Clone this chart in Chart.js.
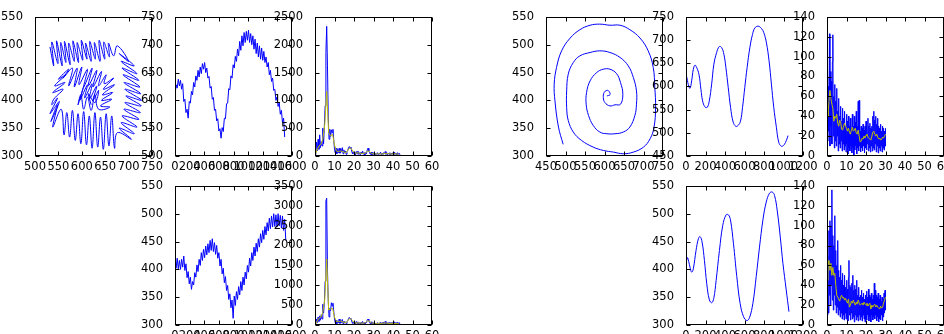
<!DOCTYPE html>
<html>
<head>
<meta charset="utf-8">
<script src="https://cdn.jsdelivr.net/npm/chart.js@4.4.0/dist/chart.umd.min.js"></script>
<style>
  html, body { margin: 0; padding: 0; background: #fff; overflow: hidden; width: 944px; height: 334px; }
  #fig { position: relative; width: 944px; height: 334px; }
  #fig canvas { position: absolute; }
</style>
</head>
<body>
<div id="fig"></div>
<script>
// ---- tick labels ----
var ticks500to750 = [500, 550, 600, 650, 700, 750];
var ticks300to550 = [300, 350, 400, 450, 500, 550];
var ticks450to750 = [450, 500, 550, 600, 650, 700, 750];
var ticks0to1600 = [0, 200, 400, 600, 800, 1000, 1200, 1400, 1600];
var ticks0to1200 = [0, 200, 400, 600, 800, 1000, 1200];
var ticks0to60 = [0, 10, 20, 30, 40, 50, 60];
var ticks0to2500 = [0, 500, 1000, 1500, 2000, 2500];
var ticks0to3500 = [0, 500, 1000, 1500, 2000, 2500, 3000, 3500];
var ticks0to140 = [0, 20, 40, 60, 80, 100, 120, 140];

// ---- panel 1: looping trajectory (x, y) ----
var p1Path = [
  [532,496],[540,462],[536,505],[549,466],[546,507],[558,462],[555,504],[566,468],[563,506],[575,464],
  [572,503],[584,470],[581,507],[593,468],[590,504],[602,472],[599,508],[611,474],[608,503],[620,470],
  [617,506],[629,474],[627,504],[639,470],[637,508],[649,474],[647,505],[659,478],[657,503],[668,480],
  [676,498],[700,470],[680,484],[712,462],[684,470],[718,448],[686,458],[722,436],[688,446],[724,424],
  [690,432],[726,412],[692,420],[728,400],[694,408],[727,390],[692,396],[725,378],[690,384],[722,366],
  [686,372],[718,352],[684,360],[712,340],[680,350],[706,330],[676,342],
  [670,314],[664,372],[658,318],[652,376],[646,312],[640,370],[634,316],[628,378],[622,314],[616,372],
  [610,320],[604,380],[598,322],[592,376],[586,328],[580,382],[574,334],[568,378],[562,338],
  [556,384],[538,352],[548,392],[534,362],[552,398],[532,376],[548,404],[536,392],
  [540,402],[560,420],[538,414],[564,432],[542,426],[566,446],[550,438],[572,456],[560,440],[580,458],
  [572,426],[590,458],[584,424],[600,460],[594,428],[612,456],[604,424],[622,458],[614,426],[632,454],
  [624,424],[642,452],[636,426],[652,446],
  [648,430],[668,440],[646,420],[670,428],[644,410],[666,414],[642,400],[664,402],[640,390],[660,388],
  [636,384],[628,410],[620,382],[612,406],[604,384],[598,410],[592,392],[604,425],[596,400],[612,428],
  [606,404],[622,430],[616,402],[632,426],[624,400],[636,418],[628,396],[614,412],[620,392]
];

// ---- panel 2: noisy series, one sample every 15 ----
var p2Step = 15;
var p2Values = [608,628,622,638,626,636,620,630,598,602,578,584,568,598,595,616,610,632,624,644,
  636,654,642,660,648,666,656,668,650,658,640,643,622,625,602,605,582,584,563,567,
  545,549,532,551,544,568,567,594,595,621,619,644,640,664,658,679,670,692,680,706,
  690,716,698,722,704,724,708,726,704,720,700,716,692,710,684,703,678,698,674,694,
  672,688,668,678,660,668,646,654,634,640,618,620,600,606,589,596,575,582,560,568,534];

// ---- panel 3: spectrum (blue) and smoothed (yellow) ----
var p3BlueStep = 0.4;
var p3Blue = [20,80,250,90,300,120,380,150,260,180,500,220,540,900,1860,2330,1620,700,300,480,
  350,470,420,480,300,120,60,140,40,120,60,140,50,130,70,150,40,110,60,90,
  30,80,100,150,170,140,160,90,40,80,30,70,20,80,40,90,30,60,20,70,
  40,90,30,60,20,60,40,110,140,90,60,30,70,20,60,30,70,20,50,30,
  60,20,50,40,70,20,50,30,60,40,80,30,60,20,50,30,60,20,50,30,
  60,20,70,30,50,20,60,30,50,20];
var p3YellowStep = 1;
var p3Yellow = [10,100,180,210,300,560,1160,420,360,390,200,90,80,90,80,70,60,110,150,110,
  60,50,60,45,50,45,55,90,80,45,40,35,40,40,35,40,50,40,40,35,40,40,35,35];

// ---- panel 4: noisy series, one sample every 15 ----
var p4Step = 15;
var p4Values = [418,402,420,401,416,400,418,404,424,398,410,385,396,374,386,364,378,372,394,386,
  408,396,418,407,430,416,436,421,442,426,446,430,452,434,455,432,448,427,443,420,
  430,406,418,392,402,376,387,362,371,346,356,331,345,312,352,335,360,346,369,354,
  378,362,386,372,395,383,407,395,420,406,430,416,440,424,447,432,455,440,464,448,
  470,454,477,462,484,469,492,473,496,476,500,477,498,476,500,478,497,474,496,470,490,452];

// ---- panel 5: spectrum (blue) and smoothed (yellow) ----
var p5BlueStep = 0.4;
var p5Blue = [10,40,150,60,200,90,230,120,260,150,520,300,560,1100,3120,3190,1380,600,200,420,
  360,560,480,550,350,150,60,120,30,100,50,150,40,120,60,140,30,100,50,80,
  30,90,110,160,190,150,170,100,40,80,30,70,25,90,40,80,30,60,20,70,
  40,90,30,60,20,70,50,130,150,100,60,30,80,20,60,30,70,20,50,30,
  60,20,50,40,70,20,60,30,70,40,90,30,70,20,60,30,70,20,60,30,
  70,20,80,30,60,20,70,30,60,20];
var p5YellowStep = 1;
var p5Yellow = [10,80,170,200,320,650,1660,380,400,420,200,90,80,100,80,70,60,120,170,120,
  60,50,55,50,50,45,60,110,90,50,45,40,40,45,40,45,55,45,40,40,45,40,40,40];

// ---- panel 6: spiral (x, y) ----
var p6Path = [
  [494,321],[482,352],[473,399],[471,429],[477,459],[490,489],[512,512],[537,527],[563,535],[588,537],
  [614,535],[640,535],[665,527],[691,512],[712,489],[725,459],[729,423],[731,387],[727,352],[717,331],
  [700,316],[674,307],[648,304],[623,307],[597,310],[571,316],[541,328],[520,343],[507,364],[503,387],
  [503,417],[507,447],[520,468],[537,480],[563,486],[588,489],[614,486],[640,477],[661,462],[674,441],
  [682,417],[682,393],[678,373],[665,352],[648,343],[627,340],[606,340],[588,343],[571,355],[559,373],
  [553,393],[554,414],[563,435],[580,450],[597,456],[614,456],[631,448],[641,432],[647,411],[641,393],
  [627,392],[614,390],[601,396],[597,405],[599,414],[606,418],[612,416],[614,410],[606,408]
];

// ---- panel 7: smooth wave ----
var p7X = [7,24,41,58,75,92,109,133,153,170,194,218,239,263,286,314,341,365,389,409,
  433,457,484,511,535,559,580,603,627,655,682,706,740,774,798,825,852,876,900,927,
  951,978,1006,1030,1047];
var p7Y = [621,604,596,612,637,646,641,626,594,569,556,555,569,605,648,673,686,684,669,641,
  598,555,523,514,516,525,555,598,641,684,712,726,730,725,716,694,655,605,555,512,
  480,471,474,484,494];

// ---- panel 8: noisy decay (blue) and smoothed (yellow) ----
var p8BlueStep = 0.25;
var p8Blue = [40,80,15,70,25,123,10,85,30,75,12,95,122,20,60,8,72,15,55,10,
  68,20,45,5,58,12,40,8,50,15,35,5,48,12,38,6,45,10,30,4,
  42,12,35,2,40,8,30,5,38,10,28,3,42,8,30,1,40,6,34,10,
  45,2,30,8,55,5,56,10,25,4,30,8,28,5,32,10,26,3,30,8,
  35,6,28,12,38,5,30,8,33,4,28,10,30,5,40,8,45,6,36,12,
  40,4,32,10,38,3,30,8,28,5,32,10,25,4,30,8,28,6,25,10,28];
var p8YellowStep = 0.5;
var p8Yellow = [45,40,55,66,58,52,48,35,40,38,42,33,30,36,34,27,26,30,33,30,
  28,25,28,24,22,26,29,25,26,28,23,22,26,20,14,15,18,17,20,18,
  21,22,19,18,17,16,20,24,25,22,20,22,19,17,18,16,17,19,18,20,22];

// ---- panel 9: smooth wave ----
var p9X = [7,17,41,58,75,103,127,144,165,189,213,240,264,285,309,343,377,411,435,456,
  487,521,555,590,624,651,686,720,754,789,823,857,884,908,936,967,994,1028,1056];
var p9Y = [416,421,404,395,401,434,455,459,449,416,374,345,340,348,380,434,479,498,498,489,
  446,387,339,315,308,313,339,387,440,489,521,537,539,533,505,458,411,363,324];

// ---- panel 10: noisy decay (blue) and smoothed (yellow) ----
var p10BlueStep = 0.25;
var p10Blue = [45,10,70,12,95,30,105,20,100,40,136,25,90,15,80,30,110,20,75,12,
  60,18,85,10,55,15,48,8,60,12,45,6,52,10,40,5,50,12,38,6,
  45,8,36,4,48,65,10,40,5,38,12,42,6,50,8,35,3,40,10,36,
  5,45,8,30,4,38,10,28,5,30,8,35,4,28,10,32,6,26,3,30,
  8,34,5,28,10,36,4,30,8,28,3,32,10,26,5,30,8,42,6,35,
  10,30,4,28,8,32,3,26,6,30,5,24,10,28,4,26,8,32,12,35,15];
var p10YellowStep = 0.5;
var p10Yellow = [45,60,65,55,62,50,58,50,52,40,30,28,26,24,28,30,27,28,25,27,
  24,22,26,18,20,24,22,25,22,20,23,21,25,22,20,21,22,20,23,21,
  20,22,19,21,22,16,20,18,20,21,18,20,18,17,16,19,17,18,22,25,28];

// ---- layout ----
var PLOT_W = 117, PLOT_H = 140;
var PAD_L = 50, PAD_T = 10, PAD_R = 22, PAD_B = 20;
var BLUE = "#0000ff", YELLOW = "#bfbf00";
var FONT = { family: "DejaVu Sans", size: 11.5 };

function pairs(path) {
  return path.map(function (p) { return { x: p[0], y: p[1] }; });
}
function stepped(values, step) {
  return values.map(function (v, i) { return { x: i * step, y: v }; });
}
function zipped(xs, ys) {
  return xs.map(function (x, i) { return { x: x, y: ys[i] }; });
}

// matplotlib-style frame with inward ticks on all four sides
var frameTicks = {
  id: "frameTicks",
  afterDatasetsDraw: function (chart) {
    var ctx = chart.ctx, a = chart.chartArea;
    var sx = chart.scales.x, sy = chart.scales.y;
    var L = Math.round(a.left) + 0.5, R = Math.round(a.right) - 0.5;
    var T = Math.round(a.top) + 0.5, B = Math.round(a.bottom) - 0.5;
    ctx.save();
    ctx.strokeStyle = "#000";
    ctx.lineWidth = 1;
    ctx.beginPath();
    sx.ticks.forEach(function (t) {
      var px = Math.round(sx.getPixelForValue(t.value)) + 0.5;
      ctx.moveTo(px, T); ctx.lineTo(px, T + 4);
      ctx.moveTo(px, B); ctx.lineTo(px, B - 4);
    });
    sy.ticks.forEach(function (t) {
      var py = Math.round(sy.getPixelForValue(t.value)) + 0.5;
      ctx.moveTo(L, py); ctx.lineTo(L + 4, py);
      ctx.moveTo(R, py); ctx.lineTo(R - 4, py);
    });
    ctx.stroke();
    ctx.strokeRect(L, T, R - L, B - T);
    ctx.restore();
  }
};

function axis(tickList, isX) {
  return {
    type: "linear",
    min: tickList[0],
    max: tickList[tickList.length - 1],
    grid: { display: false },
    border: { display: false },
    ticks: {
      color: "#000",
      font: FONT,
      padding: isX ? -4 : 4,
      autoSkip: false,
      maxRotation: 0,
      minRotation: 0,
      callback: function (v) { return String(v); }
    },
    afterBuildTicks: function (s) {
      s.ticks = tickList.map(function (v) { return { value: v }; });
    },
    afterFit: function (s) {
      if (isX) s.height = PAD_B; else s.width = PAD_L;
    }
  };
}

function line(data, color, tension) {
  return {
    data: data,
    showLine: true,
    borderColor: color,
    backgroundColor: color,
    borderWidth: 1,
    pointRadius: 0,
    tension: tension || 0
  };
}

var fig = document.getElementById("fig");

function addPanel(left, top, xTicks, yTicks, datasets) {
  var c = document.createElement("canvas");
  var w = PAD_L + PLOT_W + PAD_R, h = PAD_T + PLOT_H + PAD_B;
  c.width = w; c.height = h;
  c.style.width = w + "px"; c.style.height = h + "px";
  c.style.left = (left - PAD_L) + "px";
  c.style.top = (top - PAD_T) + "px";
  fig.appendChild(c);
  new Chart(c, {
    type: "scatter",
    data: { datasets: datasets },
    options: {
      responsive: false,
      animation: false,
      devicePixelRatio: 1,
      layout: { padding: { left: 0, top: PAD_T, right: PAD_R, bottom: 0 } },
      plugins: { legend: { display: false }, tooltip: { enabled: false } },
      scales: { x: axis(xTicks, true), y: axis(yTicks, false) }
    },
    plugins: [frameTicks]
  });
}

// top row
addPanel(35, 16, ticks500to750, ticks300to550, [line(pairs(p1Path), BLUE, 0.4)]);
addPanel(175, 16, ticks0to1600, ticks500to750, [line(stepped(p2Values, p2Step), BLUE)]);
addPanel(315, 16, ticks0to60, ticks0to2500, [
  line(stepped(p3Yellow, p3YellowStep), YELLOW),
  line(stepped(p3Blue, p3BlueStep), BLUE)
]);
addPanel(546, 16, ticks450to750, ticks300to550, [line(pairs(p6Path), BLUE, 0.4)]);
addPanel(686, 16, ticks0to1200, ticks450to750, [line(zipped(p7X, p7Y), BLUE, 0.4)]);
addPanel(827, 16, ticks0to60, ticks0to140, [
  line(stepped(p8Yellow, p8YellowStep), YELLOW),
  line(stepped(p8Blue, p8BlueStep), BLUE)
]);

// bottom row
addPanel(175, 185, ticks0to1600, ticks300to550, [line(stepped(p4Values, p4Step), BLUE)]);
addPanel(315, 185, ticks0to60, ticks0to3500, [
  line(stepped(p5Yellow, p5YellowStep), YELLOW),
  line(stepped(p5Blue, p5BlueStep), BLUE)
]);
addPanel(686, 185, ticks0to1200, ticks300to550, [line(zipped(p9X, p9Y), BLUE, 0.4)]);
addPanel(827, 185, ticks0to60, ticks0to140, [
  line(stepped(p10Yellow, p10YellowStep), YELLOW),
  line(stepped(p10Blue, p10BlueStep), BLUE)
]);
</script>
</body>
</html>
